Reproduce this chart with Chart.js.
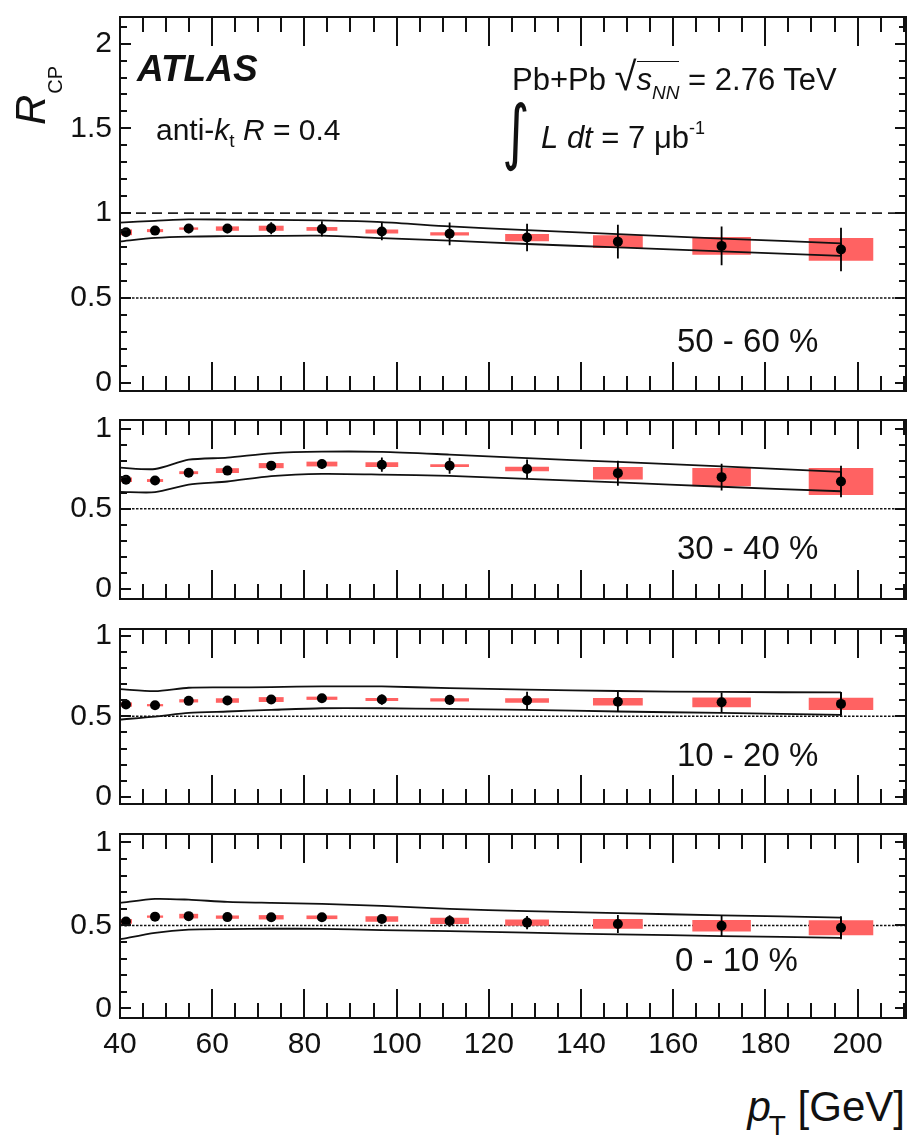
<!DOCTYPE html>
<html>
<head>
<meta charset="utf-8">
<script src="https://cdn.jsdelivr.net/npm/chart.js@4.4.1/dist/chart.umd.min.js"></script>
<style>
html,body{margin:0;padding:0;background:#fff;}
#wrap{position:relative;width:911px;height:1139px;overflow:hidden;font-family:"Liberation Sans",Arial,sans-serif;color:#111;background:#fff;}
canvas{position:absolute;left:0;}
.t{position:absolute;white-space:nowrap;line-height:1;z-index:5;}
</style>
</head>
<body>
<div id="wrap">
  <div class="t" style="left:9.5px;top:125px;font-size:42px;transform:rotate(-90deg);transform-origin:left top;"><i>R</i><span style="font-size:20px;position:relative;top:17px;margin-left:1px;">CP</span></div>
  <div class="t" style="left:137px;top:50px;font-size:37px;font-weight:bold;font-style:italic;">ATLAS</div>
  <div class="t" style="left:156px;top:114.6px;font-size:30px;">anti-<i>k</i><span style="font-size:19px;position:relative;top:7px;">t</span> <i>R</i> = 0.4</div>
  <div class="t" style="left:512px;top:55.5px;font-size:31px;">Pb+Pb <span style="font-size:40px;">√</span><span style="border-top:1.5px solid #111;"><i>s</i><span style="font-size:19px;position:relative;top:9px;"><i>NN</i></span></span> = 2.76 TeV</div>
  <div class="t" style="left:502px;top:96px;font-size:62px;font-family:'DejaVu Sans';transform:scale(0.85,1.15);transform-origin:left top;">∫</div>
  <div class="t" style="left:541px;top:122px;font-size:31px;"><i>L</i> <i>dt</i> = 7 μb<span style="font-size:18px;position:relative;top:-14px;">-1</span></div>
  <div class="t" id="lab0" style="left:677px;top:323.7px;font-size:33px;"></div>
  <div class="t" id="lab1" style="left:677px;top:530.7px;font-size:33px;"></div>
  <div class="t" id="lab2" style="left:677px;top:737.7px;font-size:33px;"></div>
  <div class="t" id="lab3" style="left:675px;top:942.7px;font-size:33px;"></div>
  <div class="t" style="right:6px;top:1086px;font-size:42px;"><i>p</i><span style="font-size:28px;position:relative;top:14px;margin-left:-2px;">T</span> [GeV]</div>
</div>
<script>
// ---------------- data ----------------
const pT = [41.3, 47.6, 54.9, 63.3, 72.8, 83.8, 96.8, 111.5, 128.3, 148.0, 170.5, 196.4];
const boxWidth = [2.6, 3.5, 4.1, 5.0, 5.4, 6.7, 7.1, 8.4, 9.5, 10.8, 12.7, 14.0];
const bandPt = [40, 47.6, 54.9, 63.3, 72.8, 83.8, 96.8, 111.5, 128.3, 148.0, 170.5, 196.4];

const centralityLabels = ["50 - 60 %", "30 - 40 %", "10 - 20 %", "0 - 10 %"];

// 50-60 %
const r1     = [0.887, 0.897, 0.909, 0.909, 0.911, 0.907, 0.892, 0.878, 0.856, 0.832, 0.807, 0.786];
const stat1  = [0.012, 0.021, 0.027, 0.027, 0.036, 0.045, 0.052, 0.067, 0.081, 0.100, 0.114, 0.128];
const sys1   = [0.017, 0.009, 0.007, 0.013, 0.015, 0.011, 0.012, 0.010, 0.021, 0.037, 0.052, 0.067];
const band1Up = [0.944, 0.955, 0.963, 0.962, 0.960, 0.957, 0.947, 0.922, 0.900, 0.876, 0.850, 0.822];
const band1Lo = [0.833, 0.854, 0.862, 0.864, 0.866, 0.867, 0.853, 0.838, 0.818, 0.798, 0.775, 0.748];

// 30-40 %
const r2     = [0.681, 0.676, 0.725, 0.738, 0.769, 0.779, 0.775, 0.769, 0.748, 0.722, 0.697, 0.670];
const stat2  = [0.010, 0.010, 0.015, 0.020, 0.026, 0.029, 0.045, 0.050, 0.060, 0.078, 0.084, 0.099];
const sys2   = [0.014, 0.009, 0.009, 0.015, 0.016, 0.015, 0.015, 0.009, 0.014, 0.039, 0.057, 0.084];
const band2Up = [0.756, 0.748, 0.806, 0.819, 0.846, 0.856, 0.855, 0.838, 0.816, 0.792, 0.764, 0.730];
const band2Lo = [0.605, 0.603, 0.650, 0.670, 0.703, 0.717, 0.713, 0.705, 0.686, 0.665, 0.637, 0.609];

// 10-20 %
const r3     = [0.573, 0.569, 0.596, 0.598, 0.604, 0.612, 0.604, 0.602, 0.598, 0.590, 0.587, 0.577];
const stat3  = [0.008, 0.008, 0.010, 0.012, 0.015, 0.020, 0.032, 0.030, 0.055, 0.063, 0.061, 0.073];
const sys3   = [0.013, 0.007, 0.010, 0.014, 0.015, 0.010, 0.009, 0.010, 0.014, 0.023, 0.030, 0.038];
const band3Up = [0.669, 0.656, 0.677, 0.679, 0.681, 0.686, 0.685, 0.675, 0.666, 0.657, 0.651, 0.648];
const band3Lo = [0.480, 0.498, 0.521, 0.530, 0.540, 0.550, 0.550, 0.546, 0.540, 0.530, 0.521, 0.509];

// 0-10 %
const r4     = [0.524, 0.553, 0.556, 0.550, 0.549, 0.549, 0.539, 0.527, 0.517, 0.509, 0.498, 0.486];
const stat4  = [0.008, 0.012, 0.012, 0.012, 0.014, 0.015, 0.024, 0.035, 0.040, 0.054, 0.063, 0.070];
const sys4   = [0.014, 0.007, 0.014, 0.010, 0.013, 0.011, 0.017, 0.019, 0.019, 0.029, 0.034, 0.045];
const band4Up = [0.636, 0.660, 0.655, 0.642, 0.636, 0.630, 0.618, 0.600, 0.586, 0.574, 0.561, 0.547];
const band4Lo = [0.416, 0.455, 0.475, 0.478, 0.480, 0.479, 0.472, 0.466, 0.456, 0.446, 0.436, 0.425];

const xTickLabels = [40, 60, 80, 100, 120, 140, 160, 180, 200];
const yTickLabelsTop = [0, 0.5, 1, 1.5, 2];
const yTickLabelsLow = [0, 0.5, 1];

// ---------------- layout ----------------
const FONT = '"Liberation Sans", Arial, sans-serif';
const X_MIN = 40, X_MAX = 210.5;
const panels = [
  {r:r1, stat:stat1, sys:sys1, up:band1Up, lo:band1Lo, top:11,  bottom:397,  yMin:-0.049, yMax:2.157, yTicks:yTickLabelsTop, unity:true},
  {r:r2, stat:stat2, sys:sys2, up:band2Up, lo:band2Lo, top:414, bottom:605,  yMin:-0.064, yMax:1.054, yTicks:yTickLabelsLow, unity:false},
  {r:r3, stat:stat3, sys:sys3, up:band3Up, lo:band3Lo, top:623, bottom:810,  yMin:-0.043, yMax:1.041, yTicks:yTickLabelsLow, unity:false},
  {r:r4, stat:stat4, sys:sys4, up:band4Up, lo:band4Lo, top:828, bottom:1018, yMin:-0.058, yMax:1.051, yTicks:yTickLabelsLow, unity:false}
];

centralityLabels.forEach((t,i)=>{ document.getElementById('lab'+i).textContent = t; });

const rootFrame = {
  id: 'rootFrame',
  afterDatasetsDraw(chart) {
    const {ctx, chartArea: a, scales: {x, y}} = chart;
    ctx.save();
    ctx.strokeStyle = '#111';
    ctx.lineWidth = 2;
    ctx.beginPath();
    for (let v = 45; v <= X_MAX; v += 5) {
      const px = Math.round(x.getPixelForValue(v));
      if (px > a.right - 2) continue;
      const len = (v % 20 === 0) ? 29 : 15;
      ctx.moveTo(px, a.top); ctx.lineTo(px, a.top + len);
      ctx.moveTo(px, a.bottom); ctx.lineTo(px, a.bottom - len);
    }
    for (let k = 0; k / 10 <= y.max; k++) {
      const v = k / 10;
      const py = Math.round(y.getPixelForValue(v));
      if (py < a.top + 2) continue;
      const len = (k % 5 === 0) ? 11 : 7;
      ctx.moveTo(a.left, py); ctx.lineTo(a.left + len, py);
      ctx.moveTo(a.right, py); ctx.lineTo(a.right - len, py);
    }
    ctx.stroke();
    ctx.lineWidth = 2;
    ctx.strokeRect(a.left, a.top, a.right - a.left, a.bottom - a.top);
    ctx.restore();
  }
};

function buildDatasets(p) {
  const ds = [];
  // data points
  ds.push({data: pT.map((x,i)=>({x, y:p.r[i]})), showLine:false, pointRadius:5,
           pointBackgroundColor:'#000', pointBorderWidth:0, order:0});
  // statistical error bars
  const err = [];
  pT.forEach((x,i)=>{ err.push({x, y:p.r[i]-p.stat[i]}, {x, y:p.r[i]+p.stat[i]}, {x, y:null}); });
  ds.push({data: err, borderColor:'#000', borderWidth:1.8, pointRadius:0, spanGaps:false, order:1});
  // uncertainty band lines
  const bandStyle = {borderColor:'#111', borderWidth:1.8, pointRadius:0, tension:0.25, fill:false, order:2};
  ds.push(Object.assign({data: bandPt.map((x,i)=>({x, y:p.up[i]}))}, bandStyle));
  ds.push(Object.assign({data: bandPt.map((x,i)=>({x, y:p.lo[i]}))}, bandStyle));
  const L = bandPt.length - 1;
  ds.push(Object.assign({data: [{x:bandPt[L], y:p.up[L]}, {x:bandPt[L], y:p.lo[L]}]}, bandStyle));
  // systematic boxes
  pT.forEach((x,i)=>{
    const w = boxWidth[i] / 2, y = p.r[i], s = p.sys[i];
    ds.push({data:[{x:x-w,y:y-s},{x:x+w,y:y-s},{x:x+w,y:y+s},{x:x-w,y:y+s}],
             fill:'shape', backgroundColor:'#ff6262', borderColor:'rgba(0,0,0,0)', borderWidth:0,
             pointRadius:0, tension:0, order:3});
  });
  // reference lines
  ds.push({data:[{x:X_MIN,y:0.5},{x:X_MAX,y:0.5}], borderColor:'#111', borderWidth:1.5,
           borderDash:[2.5,1.5], pointRadius:0, order:4});
  if (p.unity) {
    ds.push({data:[{x:X_MIN,y:1},{x:X_MAX,y:1}], borderColor:'#222', borderWidth:1.8,
             borderDash:[10,6], pointRadius:0, order:4});
  }
  return ds;
}

const wrap = document.getElementById('wrap');
panels.forEach((p, k) => {
  const isLast = k === panels.length - 1;
  const padT = 20, padB = isLast ? 0 : 20, xAxisH = isLast ? 60 : 0;
  const h = (p.bottom - p.top) + padT + padB + xAxisH;
  const cv = document.createElement('canvas');
  cv.width = 911; cv.height = h;
  cv.style.width = '911px'; cv.style.height = h + 'px';
  cv.style.top = (p.top - padT) + 'px';
  wrap.appendChild(cv);
  new Chart(cv, {
    type: 'line',
    data: {datasets: buildDatasets(p)},
    options: {
      responsive: false, animation: false, devicePixelRatio: 1, events: [],
      layout: {padding: {left: 0, right: 3, top: padT, bottom: padB}},
      plugins: {legend: {display: false}, tooltip: {enabled: false}},
      scales: {
        x: {
          type: 'linear', min: X_MIN, max: X_MAX, display: isLast,
          grid: {display: false, drawTicks: false}, border: {display: false},
          afterBuildTicks: s => { s.ticks = xTickLabels.map(v => ({value: v})); },
          afterFit: s => { s.height = xAxisH; },
          ticks: {font: {size: 30, family: FONT}, color: '#111', padding: 9,
                  maxRotation: 0, autoSkip: false, callback: v => String(v)}
        },
        y: {
          type: 'linear', min: p.yMin, max: p.yMax,
          grid: {display: false, drawTicks: false}, border: {display: false},
          afterBuildTicks: s => { s.ticks = p.yTicks.map(v => ({value: v})); },
          afterFit: s => { s.width = 120; },
          ticks: {font: {size: 30, family: FONT}, color: '#111', padding: 8,
                  autoSkip: false, callback: v => String(v)}
        }
      }
    },
    plugins: [rootFrame]
  });
});
</script>
</body>
</html>
